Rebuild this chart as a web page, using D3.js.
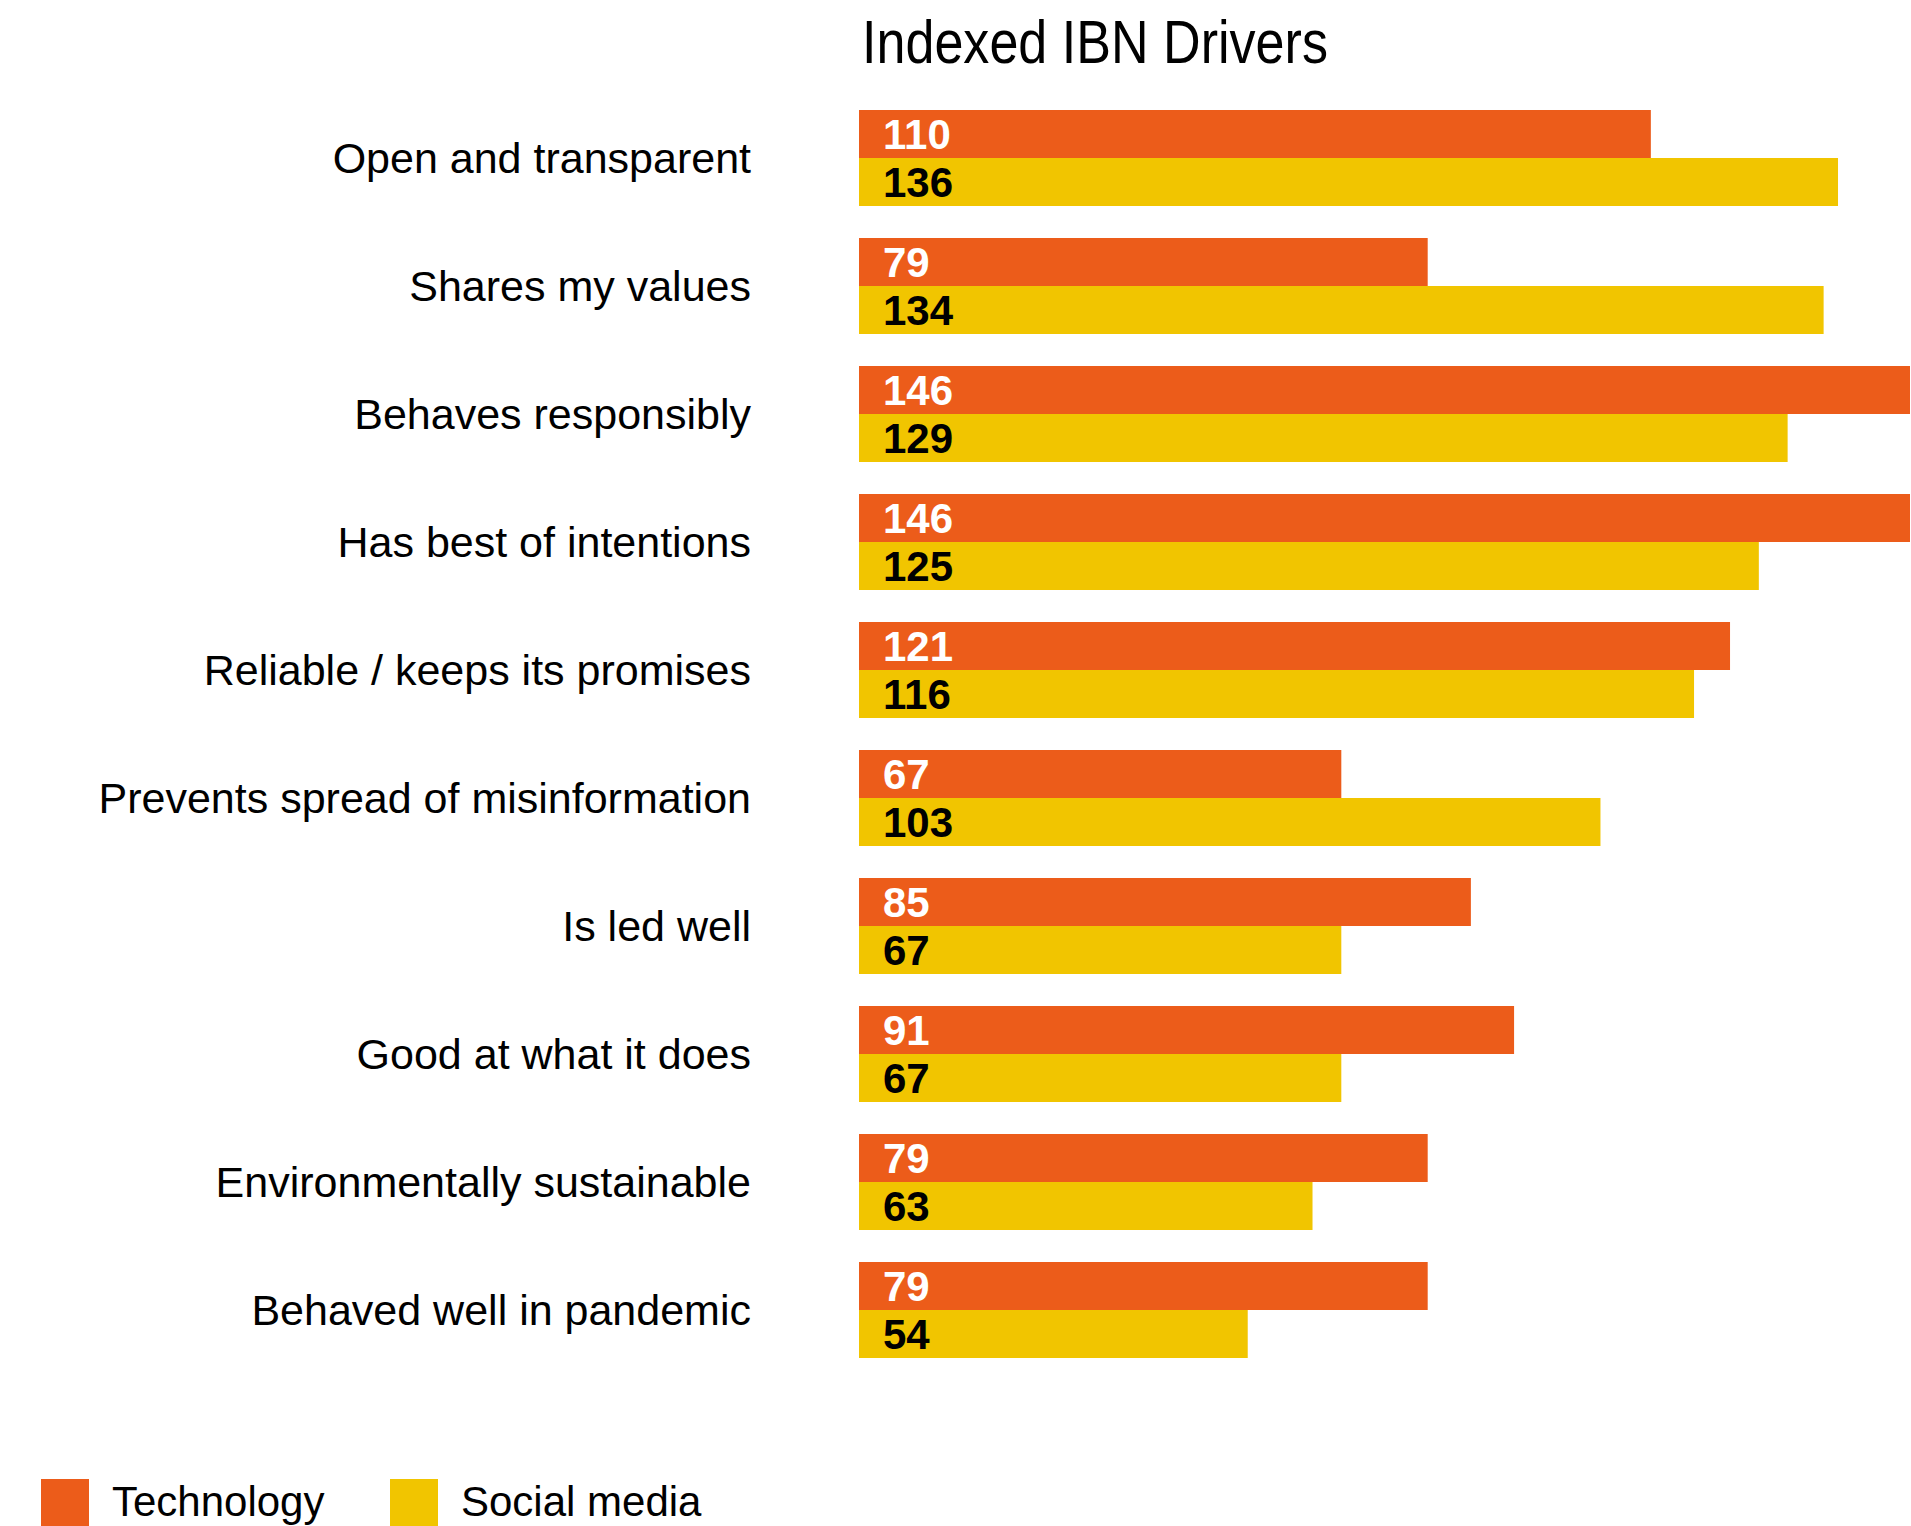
<!DOCTYPE html>
<html>
<head>
<meta charset="utf-8">
<script src="https://cdn.jsdelivr.net/npm/d3@7"></script>
<style>
  html, body { margin: 0; padding: 0; background: #fff; }
  svg { display: block; }
</style>
</head>
<body>
<script>
const title = "Indexed IBN Drivers";
const categories = [
  "Open and transparent",
  "Shares my values",
  "Behaves responsibly",
  "Has best of intentions",
  "Reliable / keeps its promises",
  "Prevents spread of misinformation",
  "Is led well",
  "Good at what it does",
  "Environmentally sustainable",
  "Behaved well in pandemic"
];
const seriesNames = ["Technology", "Social media"];
const technology = [110, 79, 146, 146, 121, 67, 85, 91, 79, 79];
const socialMedia = [136, 134, 129, 125, 116, 103, 67, 67, 63, 54];

const W = 1911, H = 1526;
const colors = { "Technology": "#EC5C1A", "Social media": "#F1C500" };
const textColors = { "Technology": "#ffffff", "Social media": "#000000" };
const FONT = "'Liberation Sans', Arial, Helvetica, sans-serif";

const rows = categories.map((c, i) => ({
  category: c,
  values: [
    { series: "Technology", value: technology[i] },
    { series: "Social media", value: socialMedia[i] }
  ]
}));

const svg = d3.select("body").append("svg")
  .attr("width", W).attr("height", H);

const x = d3.scaleLinear().domain([0, 146]).range([859, 1910]);
const y = d3.scaleBand().domain(categories).range([110, 1358])
  .paddingInner(0.25).paddingOuter(0);
const ySub = d3.scaleBand().domain(seriesNames).range([0, y.bandwidth()]);

// Title (condensed look)
const t = svg.append("text")
  .attr("x", 0).attr("y", 0)
  .attr("font-family", FONT)
  .attr("font-size", 62)
  .attr("fill", "#000")
  .text(title);
const tl = t.node().getComputedTextLength();
t.attr("transform", `translate(862,63) scale(${466 / tl},1)`);

// Groups
const g = svg.selectAll("g.row").data(rows).join("g")
  .attr("class", "row")
  .attr("transform", d => `translate(0,${y(d.category)})`);

g.append("text")
  .attr("x", 751)
  .attr("y", y.bandwidth() / 2)
  .attr("dy", "0.36em")
  .attr("text-anchor", "end")
  .attr("font-family", FONT)
  .attr("font-size", 43)
  .attr("fill", "#000")
  .text(d => d.category);

g.selectAll("rect").data(d => d.values).join("rect")
  .attr("x", x(0))
  .attr("y", d => ySub(d.series))
  .attr("width", d => x(d.value) - x(0))
  .attr("height", ySub.bandwidth())
  .attr("fill", d => colors[d.series]);

g.selectAll("text.val").data(d => d.values).join("text")
  .attr("class", "val")
  .attr("x", x(0) + 24)
  .attr("y", d => ySub(d.series) + ySub.bandwidth() / 2)
  .attr("dy", "0.36em")
  .attr("font-family", FONT)
  .attr("font-weight", "bold")
  .attr("font-size", 42)
  .attr("fill", d => textColors[d.series])
  .text(d => d.value);

// Legend
const legendX = { "Technology": 41, "Social media": 390 };
const lg = svg.selectAll("g.legend").data(seriesNames).join("g")
  .attr("class", "legend")
  .attr("transform", d => `translate(${legendX[d]},1479)`);
lg.append("rect")
  .attr("x", 0).attr("y", 0)
  .attr("width", 48).attr("height", 60)
  .attr("fill", d => colors[d]);
lg.append("text")
  .attr("x", 71).attr("y", 37)
  .attr("font-family", FONT)
  .attr("font-size", 42)
  .attr("fill", "#000")
  .text(d => d);
</script>
</body>
</html>
